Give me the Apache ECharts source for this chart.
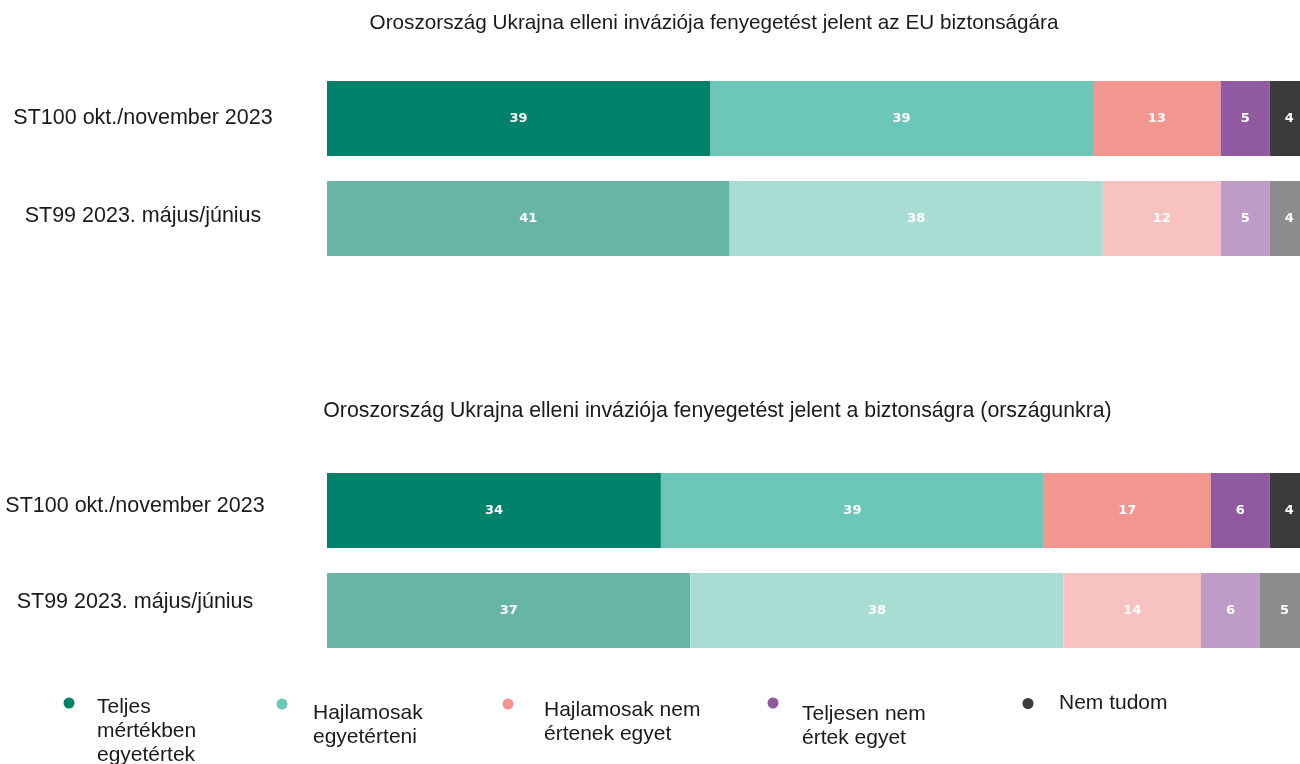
<!DOCTYPE html>
<html>
<head>
<meta charset="utf-8">
<script src="https://cdn.jsdelivr.net/npm/echarts@6/dist/echarts.min.js"></script>
<style>
html, body { margin: 0; padding: 0; background: #fff; }
#main { width: 1300px; height: 764px; }
</style>
</head>
<body>
<div id="main"></div>
<script>
var titles = [
    'Oroszország Ukrajna elleni inváziója fenyegetést jelent az EU biztonságára',
    'Oroszország Ukrajna elleni inváziója fenyegetést jelent a biztonságra (országunkra)'
];
var waves = ['ST100 okt./november 2023', 'ST99 2023. május/június'];
var answers = [
    'Teljes\nmértékben\negyetértek',
    'Hajlamosak\negyetérteni',
    'Hajlamosak nem\nértenek egyet',
    'Teljesen nem\nértek egyet',
    'Nem tudom'
];
// EU biztonsága
var euST100 = [39, 39, 13, 5, 4];
var euST99 = [41, 38, 12, 5, 4];
// saját ország
var hazaST100 = [34, 39, 17, 6, 4];
var hazaST99 = [37, 38, 14, 6, 5];

var strong = ['#00826a', '#6cc7b8', '#f39690', '#9159a0', '#3b3a3c'];
var light = ['#66b5a6', '#a8ddd4', '#f7c2bf', '#bf9cc8', '#8d8b8d'];

var panels = [[euST100, euST99], [hazaST100, hazaST99]];

var dom = document.getElementById('main');
var myChart = echarts.init(dom);

var series = [];
panels.forEach(function (rows, p) {
    answers.forEach(function (name, i) {
        series.push({
            type: 'bar',
            name: name,
            stack: 'panel' + p,
            xAxisIndex: p,
            yAxisIndex: p,
            barWidth: 75,
            clip: false,
            itemStyle: { color: strong[i] },
            label: {
                show: true,
                position: 'inside',
                color: '#fff',
                fontFamily: 'DejaVu Sans',
                fontWeight: 'bold',
                fontSize: 13
            },
            emphasis: { disabled: true },
            data: [
                { value: rows[0][i], itemStyle: { color: strong[i] } },
                { value: rows[1][i], itemStyle: { color: light[i] } }
            ]
        });
    });
});

// legend: icon pos, spacer line height (pushes text down), left gap
var legendPos = [
    { left: 63.5, top: 666, shift: 56, gap: 16.5 },
    { left: 276.5, top: 679, shift: 42, gap: 19.5 },
    { left: 502.5, top: 679, shift: 36, gap: 24.5 },
    { left: 767.5, top: 678, shift: 46, gap: 17.5 },
    { left: 1022.5, top: 693, shift: 0, gap: 19.5 }
];
var legends = answers.map(function (name, i) {
    var pos = legendPos[i];
    return {
        data: [name],
        left: pos.left,
        top: pos.top,
        padding: 0,
        icon: 'circle',
        itemWidth: 13,
        itemHeight: 11,
        selectedMode: false,
        formatter: function (n) {
            var lines = n.split('\n').map(function (l) { return '{t|' + l + '}'; });
            if (pos.shift > 0) lines.unshift('{s| }');
            return lines.join('\n');
        },
        textStyle: {
            padding: [0, 0, 0, pos.gap],
            rich: {
                s: { fontSize: 2, lineHeight: pos.shift },
                t: {
                    fontFamily: 'Liberation Sans',
                    fontSize: 21,
                    lineHeight: 24,
                    color: '#1a1a1a'
                }
            }
        }
    };
});

// spacer under each category label lifts it a little
function waveLabel(margin, lift) {
    return {
        margin: margin,
        align: 'center',
        formatter: function (v, idx) {
            return '{t|' + v + '}\n{s' + idx + '| }';
        },
        rich: {
            t: { fontFamily: 'Liberation Sans', fontSize: 21.5, lineHeight: 26, color: '#1a1a1a' },
            s0: { fontSize: 2, lineHeight: lift[0] },
            s1: { fontSize: 2, lineHeight: lift[1] }
        }
    };
}

var titleStyle = { fontFamily: 'Liberation Sans', fontWeight: 'normal', color: '#1a1a1a' };

option = {
    backgroundColor: '#fff',
    animation: false,
    title: [{
        text: titles[0],
        left: 714,
        top: 13,
        textAlign: 'center',
        padding: 0,
        textStyle: Object.assign({ fontSize: 20.7 }, titleStyle)
    }, {
        text: titles[1],
        left: 717.5,
        top: 401,
        textAlign: 'center',
        padding: 0,
        textStyle: Object.assign({ fontSize: 21.3 }, titleStyle)
    }],
    legend: legends,
    grid: [
        { left: 327, right: 0, top: 68.5, height: 200 },
        { left: 327, right: 0, top: 460.5, height: 200 }
    ],
    xAxis: [
        { type: 'value', gridIndex: 0, min: 0, max: 99.08, show: false },
        { type: 'value', gridIndex: 1, min: 0, max: 99.08, show: false }
    ],
    yAxis: [{
        type: 'category',
        gridIndex: 0,
        inverse: true,
        data: waves,
        axisLine: { show: false },
        axisTick: { show: false },
        axisLabel: waveLabel(184, [1, 5])
    }, {
        type: 'category',
        gridIndex: 1,
        inverse: true,
        data: waves,
        axisLine: { show: false },
        axisTick: { show: false },
        axisLabel: waveLabel(192, [9, 17])
    }],
    series: series
};

if (option && typeof option === 'object') {
    myChart.setOption(option, true);
}
</script>
</body>
</html>
